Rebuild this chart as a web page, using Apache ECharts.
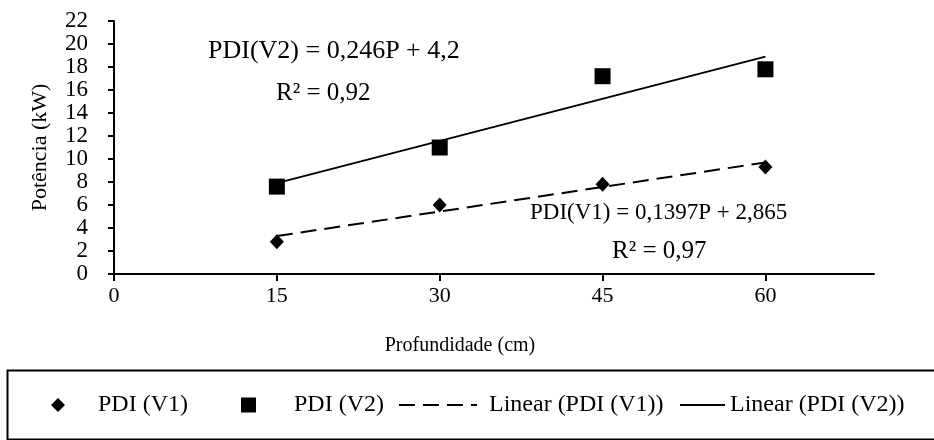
<!DOCTYPE html>
<html>
<head>
<meta charset="utf-8">
<script src="https://cdn.jsdelivr.net/npm/echarts@6/dist/echarts.min.js"></script>
<style>
  html, body { margin: 0; padding: 0; background: #fff; }
  #chart { width: 934px; height: 440px; }
</style>
</head>
<body>
<div id="chart"></div>
<script>
// profundidade (cm) e potência (kW)
var depths = [15, 30, 45, 60];
var pdiV1 = [2.8, 6.0, 7.8, 9.3];
var pdiV2 = [7.6, 11.0, 17.2, 17.8];
// extremos das retas de tendência
var trendV1 = [[15, 3.3], [60, 9.7]];
var trendV2 = [[15, 7.9], [60, 18.9]];
var xTicks = [0, 15, 30, 45, 60];
var eqV2 = ['PDI(V2) = 0,246P + 4,2', 'R² = 0,92'];
var eqV1 = ['PDI(V1) = 0,1397P + 2,865', 'R² = 0,97'];

var font = '"Liberation Serif", "Times New Roman", serif';

function pairs(xs, ys){
	var out = [];
	for(var i = 0; i < xs.length; i++){
		out.push([xs[i], ys[i]]);
	}
	return out;
}

var legendText = { fontFamily: font, fontSize: 24, color: '#000' };

var myChart = echarts.init(document.getElementById('chart'));
var option = {
	animation: false,
	textStyle: { fontFamily: font, color: '#000' },
	grid: { left: 114, right: 60, top: 21, bottom: 166 },
	xAxis: {
		type: 'value',
		min: 0,
		max: 70,
		interval: 15,
		name: 'Profundidade (cm)',
		nameLocation: 'middle',
		nameGap: 62,
		nameTextStyle: { fontFamily: font, fontSize: 20, color: '#000', padding: [0, 68, 0, 0] },
		axisLine: { lineStyle: { color: '#000', width: 2 } },
		axisTick: { inside: false, length: 7, lineStyle: { color: '#000', width: 2 }, customValues: xTicks },
		axisLabel: { fontFamily: font, fontSize: 22, color: '#000', margin: 11, customValues: xTicks },
		splitLine: { show: false }
	},
	yAxis: {
		type: 'value',
		min: 0,
		max: 22,
		interval: 2,
		name: 'Potência (kW)',
		nameLocation: 'middle',
		nameGap: 63,
		nameRotate: 90,
		nameTextStyle: { fontFamily: font, fontSize: 22, color: '#000' },
		axisLine: { lineStyle: { color: '#000', width: 2 } },
		axisTick: { inside: false, length: 6, lineStyle: { color: '#000', width: 2 } },
		axisLabel: { fontFamily: font, fontSize: 23, color: '#000', margin: 26 },
		splitLine: { show: false }
	},
	legend: [
		{
			left: 51, top: 393, padding: 0, itemWidth: 14, itemHeight: 14,
			data: [{ name: 'PDI (V1)', textStyle: { padding: [0, 0, 0, 28] } }],
			textStyle: legendText
		},
		{
			left: 241, top: 393, padding: 0, itemWidth: 15, itemHeight: 15,
			data: [{ name: 'PDI (V2)', textStyle: { padding: [0, 0, 0, 33] } }],
			textStyle: legendText
		},
		{
			left: 398, top: 393, padding: 0, itemWidth: 78, itemHeight: 14,
			data: [{ name: 'Linear (PDI (V1))', itemStyle: { opacity: 0 }, textStyle: { padding: [0, 0, 0, 7] } }],
			textStyle: legendText
		},
		{
			left: 679, top: 393, padding: 0, itemWidth: 45, itemHeight: 14,
			data: [{ name: 'Linear (PDI (V2))', itemStyle: { opacity: 0 } }],
			textStyle: legendText
		}
	],
	graphic: [
		{
			type: 'rect', left: 5, top: 368, silent: true,
			shape: { width: 960, height: 69 },
			style: { fill: 'none', stroke: '#000', lineWidth: 2 }
		},
		{ type: 'text', left: 208, top: 38, style: { text: eqV2[0], font: '26px ' + font, fill: '#000' } },
		{ type: 'text', left: 276, top: 81, style: { text: eqV2[1], font: '25px ' + font, fill: '#000' } },
		{ type: 'text', left: 530, top: 201, style: { text: eqV1[0], font: '23px ' + font, fill: '#000' } },
		{ type: 'text', left: 612, top: 239, style: { text: eqV1[1], font: '25px ' + font, fill: '#000' } }
	],
	series: [
		{
			name: 'PDI (V1)',
			type: 'scatter',
			symbol: 'diamond',
			symbolSize: [14, 15],
			itemStyle: { color: '#000', opacity: 1 },
			data: pairs(depths, pdiV1)
		},
		{
			name: 'PDI (V2)',
			type: 'scatter',
			symbol: 'rect',
			symbolSize: 16,
			itemStyle: { color: '#000', opacity: 1 },
			data: pairs(depths, pdiV2)
		},
		{
			name: 'Linear (PDI (V1))',
			type: 'line',
			symbol: 'none',
			lineStyle: { color: '#000', width: 2, type: [16, 8] },
			itemStyle: { color: '#000' },
			data: trendV1
		},
		{
			name: 'Linear (PDI (V2))',
			type: 'line',
			symbol: 'none',
			lineStyle: { color: '#000', width: 2 },
			itemStyle: { color: '#000' },
			data: trendV2
		}
	]
};
myChart.setOption(option);
</script>
</body>
</html>
